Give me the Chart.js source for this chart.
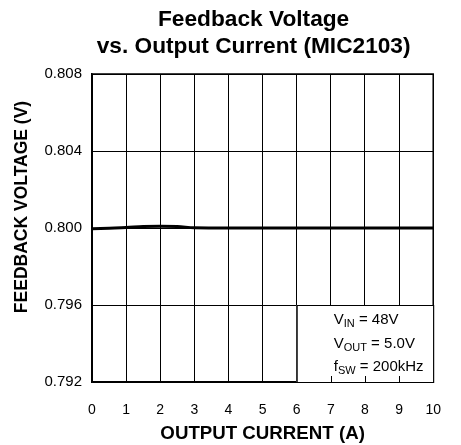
<!DOCTYPE html>
<html>
<head>
<meta charset="utf-8">
<script src="https://cdn.jsdelivr.net/npm/chart.js@4"></script>
<style>
  body { margin: 0; background: #fff; }
</style>
</head>
<body>
<canvas id="myChart" width="461" height="445"></canvas>
<script>
const current = [0, 0.5, 1, 1.5, 2, 2.5, 3, 4, 5, 6, 7, 8, 9, 10];
const voltage = [0.79996, 0.79999, 0.80002, 0.80008, 0.80009, 0.80008, 0.80001, 0.8, 0.8, 0.8, 0.8, 0.8, 0.8, 0.8];
const yTicks = [0.792, 0.796, 0.800, 0.804, 0.808];
const xTicks = [0, 1, 2, 3, 4, 5, 6, 7, 8, 9, 10];
const titleLines = ['Feedback Voltage', 'vs. Output Current (MIC2103)'];
const yTitle = 'FEEDBACK VOLTAGE (V)';
const notes = [
  ['V', 'IN', ' = 48V'],
  ['V', 'OUT', ' = 5.0V'],
  ['f', 'SW', ' = 200kHz']
];

const FONT = 'Arial, "Liberation Sans", Helvetica, sans-serif';

// titles sit a bit off-centre in the original, so they are drawn here
const titles = {
  id: 'titles',
  afterDraw(chart) {
    const {ctx, chartArea: a} = chart;
    ctx.save();
    ctx.fillStyle = '#000';
    ctx.textAlign = 'center';
    ctx.textBaseline = 'middle';
    ctx.font = 'bold 22.7px ' + FONT;
    const cx = (a.left + a.right) / 2 - 9;
    titleLines.forEach((t, i) => ctx.fillText(t, cx, 20 + i * 26.5));

    ctx.translate(22, (a.top + a.bottom) / 2 - 21);
    ctx.rotate(-Math.PI / 2);
    ctx.font = 'bold 17.5px ' + FONT;
    ctx.fillText(yTitle, 0, 0);
    ctx.restore();
  }
};

// frame around the plot + the conditions box in the lower right
const frameAndNotes = {
  id: 'frameAndNotes',
  afterDatasetsDraw(chart) {
    const {ctx, chartArea: a, scales: {x, y}} = chart;
    ctx.save();
    ctx.strokeStyle = '#000';
    ctx.lineWidth = 1.5;
    ctx.strokeRect(a.left, a.top, a.right - a.left, a.bottom - a.top);

    const bx = x.getPixelForValue(6), by = y.getPixelForValue(0.796);
    const bw = a.right - bx, bh = a.bottom - by;
    ctx.fillStyle = '#fff';
    ctx.fillRect(bx, by, bw, bh);
    ctx.lineWidth = 1;
    ctx.strokeRect(bx + 0.5, by + 0.5, bw, bh);
    // little ticks along the bottom inside the box
    ctx.beginPath();
    [7, 8, 9].forEach(v => {
      const px = Math.round(x.getPixelForValue(v)) + 0.5;
      ctx.moveTo(px, a.bottom);
      ctx.lineTo(px, a.bottom - 6);
    });
    ctx.stroke();

    ctx.fillStyle = '#000';
    ctx.textBaseline = 'alphabetic';
    let ty = by + 19;
    notes.forEach(([main, sub, rest]) => {
      let tx = bx + 37;
      ctx.font = '15px ' + FONT;
      ctx.fillText(main, tx, ty);
      tx += ctx.measureText(main).width;
      ctx.font = '11px ' + FONT;
      ctx.fillText(sub, tx, ty + 3);
      tx += ctx.measureText(sub).width;
      ctx.font = '15px ' + FONT;
      ctx.fillText(rest, tx, ty);
      ty += 23.5;
    });
    ctx.restore();
  }
};

new Chart(document.getElementById('myChart'), {
  type: 'line',
  data: {
    datasets: [{
      data: current.map((c, i) => ({x: c, y: voltage[i]})),
      borderColor: '#000',
      borderWidth: 3,
      pointRadius: 0,
      cubicInterpolationMode: 'monotone',
      fill: false
    }]
  },
  options: {
    responsive: false,
    animation: false,
    layout: { padding: { left: 0, right: 24, top: 74, bottom: 0 } },
    plugins: {
      legend: { display: false },
      tooltip: { enabled: false },
      title: { display: false }
    },
    scales: {
      x: {
        type: 'linear',
        min: 0,
        max: 10,
        afterBuildTicks: s => { s.ticks = xTicks.map(v => ({value: v})); },
        afterFit: s => { s.height = 63; },
        grid: { color: '#000', lineWidth: 1, drawTicks: false },
        border: { color: '#000', width: 1.5 },
        ticks: { color: '#000', padding: 20, font: { family: FONT, size: 14 } },
        title: {
          display: true,
          text: 'OUTPUT CURRENT (A)',
          color: '#000',
          font: { family: FONT, size: 18.7, weight: 'bold' },
          padding: { top: 0, bottom: 0 }
        }
      },
      y: {
        min: 0.792,
        max: 0.808,
        afterBuildTicks: s => { s.ticks = yTicks.map(v => ({value: v})); },
        afterFit: s => { s.width = 92; },
        grid: { color: '#000', lineWidth: 1, drawTicks: false },
        border: { color: '#000', width: 1.5 },
        ticks: {
          color: '#000',
          padding: 10,
          font: { family: FONT, size: 15 },
          callback: v => v.toFixed(3)
        }
      }
    }
  },
  plugins: [frameAndNotes, titles]
});
</script>
</body>
</html>
